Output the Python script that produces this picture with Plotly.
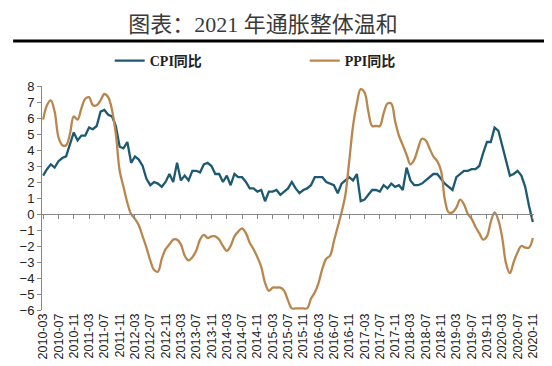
import plotly.graph_objects as go
import pandas as pd

months = [p.strftime("%Y-%m") for p in pd.period_range("2010-03", "2020-11", freq="M")]
tick_labels = months[::4]

cpi = [2.4, 2.8, 3.1, 2.9, 3.3, 3.5, 3.6, 4.4, 5.1, 4.6,
       4.9, 4.9, 5.4, 5.3, 5.5, 6.4, 6.5, 6.2, 6.1, 5.5, 4.2, 4.1,
       4.5, 3.2, 3.6, 3.4, 3.0, 2.2, 1.8, 2.0, 1.9, 1.7, 2.0, 2.5,
       2.0, 3.2, 2.1, 2.4, 2.1, 2.7, 2.7, 2.6, 3.1, 3.2, 3.0, 2.5,
       2.5, 2.0, 2.4, 1.8, 2.5, 2.3, 2.3, 2.0, 1.6, 1.6, 1.4, 1.5,
       0.8, 1.4, 1.4, 1.5, 1.2, 1.4, 1.6, 2.0, 1.6, 1.3, 1.5, 1.6,
       1.8, 2.3, 2.3, 2.3, 2.0, 1.9, 1.8, 1.3, 1.9, 2.1, 2.3, 2.1,
       2.5, 0.8, 0.9, 1.2, 1.5, 1.5, 1.4, 1.8, 1.6, 1.9, 1.7, 1.8,
       1.5, 2.9, 2.1, 1.8, 1.8, 1.9, 2.1, 2.3, 2.5, 2.5, 2.2, 1.9,
       1.7, 1.5, 2.3, 2.5, 2.7, 2.7, 2.8, 2.8, 3.0, 3.8, 4.5, 4.5,
       5.4, 5.2, 4.3, 3.3, 2.4, 2.5, 2.7, 2.4, 1.7, 0.5, -0.5]

ppi = [5.9, 6.8, 7.1, 6.4, 4.8, 4.3, 4.3, 5.0, 6.1, 5.9,
       6.6, 7.2, 7.3, 6.8, 6.8, 7.1, 7.5, 7.3, 6.5, 5.0, 2.7, 1.7,
       0.7, 0.0, -0.3, -0.7, -1.4, -2.1, -2.9, -3.5, -3.6, -2.8, -2.2, -1.9,
       -1.6, -1.6, -1.9, -2.6, -2.9, -2.7, -2.3, -1.6, -1.3, -1.5, -1.4, -1.4,
       -1.6, -2.0, -2.3, -2.0, -1.4, -1.1, -0.9, -1.2, -1.8, -2.2, -2.7, -3.3,
       -4.3, -4.8, -4.6, -4.6, -4.6, -4.8, -5.4, -5.9, -5.9, -5.9, -5.9, -5.9,
       -5.3, -4.9, -4.3, -3.4, -2.8, -2.6, -1.7, -0.8, 0.1, 1.2, 3.3, 5.5,
       6.9, 7.8, 7.6, 6.4, 5.5, 5.5, 5.5, 6.3, 6.9, 6.9, 5.8, 4.9,
       4.3, 3.7, 3.1, 3.4, 4.1, 4.7, 4.6, 4.1, 3.6, 3.3, 2.7, 0.9,
       0.1, 0.1, 0.4, 0.9, 0.6, 0.0, -0.3, -0.8, -1.2, -1.6, -1.4, -0.5,
       0.1, -0.4, -1.5, -3.1, -3.7, -3.0, -2.4, -2.0, -2.1, -2.1, -1.5]

y_ticks = list(range(-6, 9))

W, H = 552, 366
ml, mr, mt, mb = 32, 26, 78, 64
pw, ph = W - ml - mr, H - mt - mb
ymin, ymax = -6, 8

def px_x(p):
    return (p - ml) / pw

def px_y(p):
    return (H - mb - p) / ph

fig = go.Figure()
fig.add_trace(go.Scatter(x=months, y=cpi, mode="lines", name="CPI同比",
                         line=dict(color="#1d5a72", width=2.3)))
fig.add_trace(go.Scatter(x=months, y=ppi, mode="lines", name="PPI同比",
                         line=dict(color="#b9874e", width=2.3, shape="spline", smoothing=1.0)))
fig.add_trace(go.Scatter(x=months, y=[None] * len(months), xaxis="x2",
                         showlegend=False, hoverinfo="skip"))

fig.update_layout(
    width=W, height=H,
    margin=dict(l=ml, r=mr, t=mt, b=mb),
    paper_bgcolor="white", plot_bgcolor="white",
    font=dict(family="Liberation Sans, Arial, sans-serif", color="#222"),
    title=dict(text="图表：2021 年通胀整体温和", x=255 / W, xanchor="center",
               y=1 - 16 / H, yanchor="middle",
               font=dict(family="Liberation Serif, Noto Sans CJK SC", size=22, color="#3a3a3a")),
    showlegend=True,
    legend=dict(orientation="h", x=px_x(100), xanchor="left",
                y=px_y(53), yanchor="middle",
                font=dict(family="Liberation Serif, Noto Sans CJK SC", size=14, color="#222", weight="bold"),
                entrywidth=150, entrywidthmode="pixels", itemwidth=30,
                bgcolor="rgba(0,0,0,0)"),
    xaxis=dict(type="category", categoryorder="array", categoryarray=months,
               range=[-0.3, len(months) - 0.7],
               tickmode="array", tickvals=tick_labels, ticktext=tick_labels,
               tickangle=-90, tickfont=dict(size=12.5, color="#222"),
               showline=False, showgrid=False, zeroline=False, ticks=""),
    xaxis2=dict(type="category", categoryorder="array", categoryarray=months,
                overlaying="x", matches="x", anchor="free",
                position=(0 - ymin) / (ymax - ymin),
                tickmode="array", tickvals=tick_labels, showticklabels=False,
                ticks="outside", ticklen=4, tickcolor="#888", tickwidth=1,
                showline=True, linecolor="#888", linewidth=1, showgrid=False, zeroline=False),
    yaxis=dict(range=[ymin, ymax], tickmode="array", tickvals=y_ticks,
               tickfont=dict(size=13, color="#222"),
               showline=True, linecolor="#888", linewidth=1,
               ticks="outside", ticklen=4, tickcolor="#888",
               showgrid=False, zeroline=False),
)

fig.add_shape(type="line", xref="paper", yref="paper",
              x0=px_x(3), x1=px_x(548), y0=px_y(33), y1=px_y(33),
              line=dict(color="black", width=3))

fig.write_html("out.html")
